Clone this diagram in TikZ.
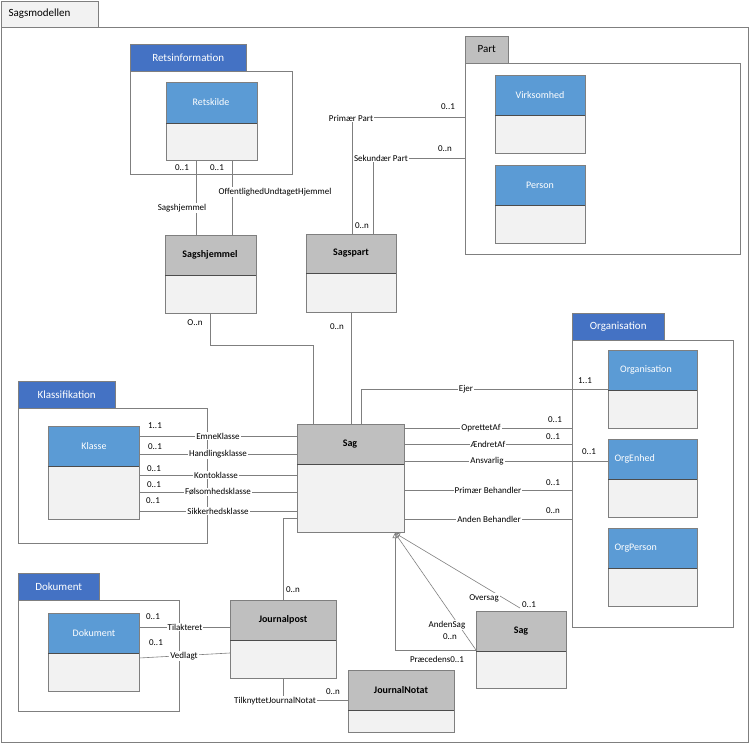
\documentclass[tikz,border=0pt]{standalone}
\usepackage{fontspec}
\setmainfont{Carlito}
\usetikzlibrary{arrows.meta}
\definecolor{tabblue}{HTML}{4472C4}
\definecolor{hblue}{HTML}{5B9BD5}
\definecolor{hgray}{HTML}{BFBFBF}
\definecolor{body}{HTML}{F2F2F2}
\definecolor{ln}{HTML}{7F7F7F}
\tikzset{
 pkg/.style={draw=ln,fill=white},
 tab/.style={draw=ln,fill=tabblue,text=white,anchor=south west,minimum height=27pt,inner xsep=5pt,font=\fontsize{11}{13}\selectfont},
 gtab/.style={draw=ln,fill=hgray,text=black,anchor=south west,minimum height=27pt,inner xsep=5pt,font=\fontsize{11}{13}\selectfont},
 lab/.style={font=\fontsize{9}{10}\selectfont,inner sep=1pt},
 lbl/.style={font=\fontsize{9}{10}\selectfont,inner sep=1pt,fill=white},
 con/.style={draw=ln,line width=0.6pt},
}
\newcommand{\cls}[7]{% name, x1,y1,x2,y2,yh, color ; text
 \fill[body] (#2,#3) rectangle (#4,#5);
 \fill[#7] (#2,#3) rectangle (#4,#6);
 \draw[ln,line width=0.6pt] (#2,#3) rectangle (#4,#5);
 \draw[black!70,line width=1pt] (#2,#6) -- (#4,#6);
 \node[inner sep=0pt,minimum width=#4pt-#2pt,minimum height=#6pt-#3pt] (#1) at ({(#2+#4)/2},{(#3+#5)/2}) {};
}
\begin{document}
\begin{tikzpicture}[x=1pt,y=-1pt]
\useasboundingbox (0,0) rectangle (750,744);
% outer
\draw[ln,fill=body] (1,1) rectangle (98,27);
\node[anchor=west,font=\fontsize{11}{13}\selectfont] (tsag) at (5,14) {Sagsmodellen};
\draw[ln] (1,27) rectangle (748,742);
% packages
\draw[pkg] (130,71) rectangle (292,174);
\draw[pkg] (465,63) rectangle (740,254);
\draw[pkg] (572,340) rectangle (733,627);
\draw[pkg] (18,408) rectangle (207,543);
\draw[pkg] (18,600) rectangle (179,711);
\node[tab,minimum width=116pt] (tret) at (130,71) {Retsinformation};
\node[gtab,minimum width=43pt] (tpart) at (465,63) {Part};
\node[tab,minimum width=92pt] (torg) at (572,340) {Organisation};
\node[tab,minimum width=97pt] (tkla) at (18,408) {Klassifikation};
\node[tab,minimum width=81pt] (tdok) at (18,600) {Dokument};

% connectors
\draw[con] (196,160) -- (196,235);
\draw[con] (232,160) -- (232,235);
\draw[con] (465,117) -- (352,117) -- (352,234);
\draw[con] (465,158) -- (373,158) -- (373,234);
\draw[con] (210,313) -- (210,345) -- (313,345) -- (313,424);
\draw[con] (351,312) -- (351,424);
\draw[con] (361,424) -- (361,389) -- (608,389);
\foreach \y in {428,444,490,519} \draw[con] (404,\y) -- (572,\y);
\draw[con] (404,461) -- (608,461);
\foreach \y in {436,454,475,492,511} \draw[con] (139,\y) -- (297,\y);
\draw[con] (297,518) -- (283,518) -- (283,600);
\draw[con] (139,627) -- (230,627);
\draw[con] (139,658) -- (230,653);
\draw[con] (283,678) -- (283,700) -- (348,700);
\draw[con,-{Triangle[open,length=5pt,width=5pt]}] (520,608) -- (395,533);
\draw[con,-{Triangle[open,length=5pt,width=5pt]}] (476,650) -- (395,533);
\draw[con,-{Triangle[open,length=5pt,width=5pt]}] (476,650) -- (395,650) -- (395,533);

% classes
\cls{retskilde}{166}{82}{257}{160}{123}{hblue}
\cls{virk}{495}{75}{585}{153}{115}{hblue}
\cls{person}{495}{165}{585}{243}{205}{hblue}
\cls{sagshj}{165}{235}{256}{313}{275}{hgray}
\cls{sagspart}{306}{234}{396}{312}{273}{hgray}
\cls{orgc}{608}{350}{697}{428}{390}{hblue}
\cls{orgenh}{608}{439}{697}{517}{479}{hblue}
\cls{orgper}{608}{528}{697}{606}{568}{hblue}
\cls{klasse}{48}{426}{139}{519}{466}{hblue}
\cls{sag}{297}{424}{404}{532}{464}{hgray}
\cls{dokc}{48}{613}{139}{691}{653}{hblue}
\cls{jpost}{230}{600}{336}{678}{640}{hgray}
\cls{jnotat}{348}{670}{454}{732}{710}{hgray}
\cls{sag2}{476}{611}{566}{688}{651}{hgray}
\tikzset{wt/.style={text=white,font=\fontsize{10}{12}\selectfont}, bt/.style={text=black,font=\fontsize{10}{12}\bfseries\selectfont}}
\node[wt] (t1) at (211,102) {Retskilde};
\node[wt] (t2) at (540,95) {Virksomhed};
\node[wt] (t3) at (540,185) {Person};
\node[bt] (t4) at (210,255) {Sagshjemmel};
\node[bt] (t5) at (351,253) {Sagspart};
\node[wt] (t6) at (646,370) {Organisation};
\node[wt,anchor=west] (t7) at (611,459) {OrgEnhed};
\node[wt,anchor=west] (t8) at (611,548) {OrgPerson};
\node[wt] (t9) at (94,446) {Klasse};
\node[bt] (t10) at (350,444) {Sag};
\node[wt] (t11) at (94,633) {Dokument};
\node[bt] (t12) at (283,620) {Journalpost};
\node[bt] (t13) at (401,690) {JournalNotat};
\node[bt] (t14) at (521,631) {Sag};

% labels
\node[lab] (a1) at (182,168) {0..1};
\node[lab] (a2) at (217,168) {0..1};
\node[lbl] (a3) at (182,208) {Sagshjemmel};
\node[lbl] (a4) at (275,192) {OffentlighedUndtagetHjemmel};
\node[lbl] (a5) at (351,118) {Primær Part};
\node[lab] (a6) at (448,107) {0..1};
\node[lbl] (a7) at (381,158) {Sekundær Part};
\node[lab] (a8) at (445,149) {0..n};
\node[lab] (a9) at (362,226) {0..n};
\node[lab] (a10) at (195,323) {O..n};
\node[lab] (a11) at (337,327) {0..n};
\node[lbl] (a12) at (466,389) {Ejer};
\node[lab] (a13) at (585,381) {1..1};
\node[lbl] (a14) at (481,428) {OprettetAf};
\node[lab] (a15) at (555,420) {0..1};
\node[lbl] (a16) at (488,444) {ÆndretAf};
\node[lab] (a17) at (553,437) {0..1};
\node[lbl] (a18) at (487,461) {Ansvarlig};
\node[lab] (a19) at (589,452) {0..1};
\node[lbl] (a20) at (488,490) {Primær Behandler};
\node[lab] (a21) at (553,483) {0..1};
\node[lbl] (a22) at (489,519) {Anden Behandler};
\node[lab] (a23) at (553,511) {0..n};
\node[lbl] (b1) at (218,436) {EmneKlasse};
\node[lbl] (b2) at (218,454) {Handlingsklasse};
\node[lbl] (b3) at (216,475) {Kontoklasse};
\node[lbl] (b4) at (218,492) {Følsomhedsklasse};
\node[lbl] (b5) at (218,511) {Sikkerhedsklasse};
\node[lab] (c1) at (155,426) {1..1};
\node[lab] (c2) at (155,447) {0..1};
\node[lab] (c3) at (154,469) {0..1};
\node[lab] (c4) at (154,485) {0..1};
\node[lab] (c5) at (153,501) {0..1};
\node[lab] (d1) at (293,590) {0..n};
\node[lab] (d2) at (153,617) {0..1};
\node[lbl] (d3) at (185,627) {Tilakteret};
\node[lab] (d4) at (156,643) {0..1};
\node[lbl] (d5) at (184,656) {Vedlagt};
\node[lbl] (d6) at (275,701) {TilknyttetJournalNotat};
\node[lab] (d7) at (333,692) {0..n};
\node[lbl] (e1) at (484,598) {Oversag};
\node[lab] (e2) at (529,605) {0..1};
\node[lbl] (e3) at (447,625) {AndenSag};
\node[lab] (e4) at (450,637) {0..n};
\node[lbl] (e5) at (437,659) {Præcedens0..1};
\end{tikzpicture}
\end{document}
